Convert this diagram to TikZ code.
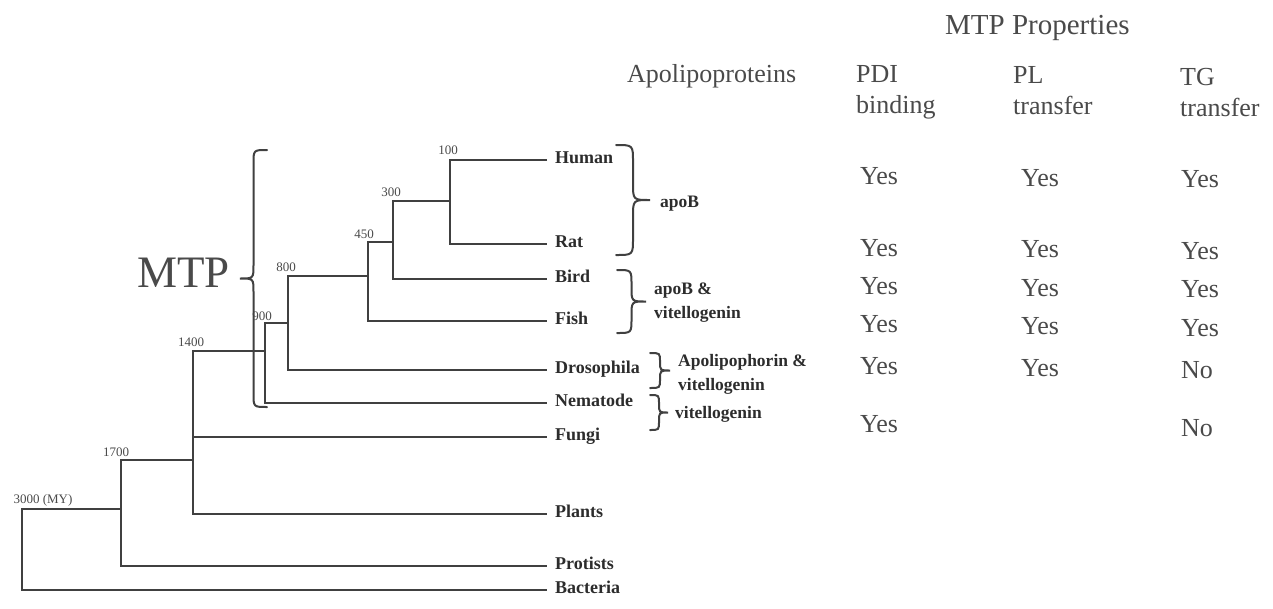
\documentclass[tikz,border=0pt]{standalone}
\usepackage{fontspec}
\setmainfont{Liberation Serif}
\definecolor{lc}{HTML}{404040}
\definecolor{tc}{HTML}{2C2C2C}
\definecolor{gc}{HTML}{4A4A4A}
\newcommand\mybrace[4]{%
  \pgfmathsetmacro\bxm{(#1+#4)/2}%
  \pgfmathsetmacro\bym{(#2+#3)/2}%
  \pgfmathsetmacro\bh{min(abs(#4-#1)/2,(#3-#2)/4)}%
  \draw[bracestyle] (#1,#2) .. controls (\bxm,#2) .. (\bxm,#2+\bh) -- (\bxm,\bym-\bh) .. controls (\bxm,\bym) .. (#4,\bym) .. controls (\bxm,\bym) .. (\bxm,\bym+\bh) -- (\bxm,#3-\bh) .. controls (\bxm,#3) .. (#1,#3);}
\begin{document}
\begin{tikzpicture}[x=1pt,y=-1pt,
  br/.style={draw=lc,line width=1.8pt,line join=miter},
  bracestyle/.style={draw=lc,line width=2pt,line cap=round},
  leaf/.style={anchor=west,inner xsep=8pt,inner ysep=0pt,text height=0.66em,text depth=0pt,text=tc,font=\bfseries\fontsize{18}{20}\selectfont},
  blab/.style={anchor=base west,inner sep=0pt,text=tc,font=\bfseries\fontsize{17.5}{20}\selectfont},
  num/.style={inner sep=0pt,text=gc,font=\fontsize{13}{14}\selectfont},
  tab/.style={anchor=base west,inner sep=0pt,text=gc,font=\fontsize{26}{28}\selectfont}]
\useasboundingbox (0,0) rectangle (1273,608);
\fill[white] (0,0) rectangle (1273,608);
% leaves
\node[leaf] (human) at (547,160) {Human};
\node[leaf] (rat) at (547,244) {Rat};
\node[leaf] (bird) at (547,279) {Bird};
\node[leaf] (fish) at (547,321) {Fish};
\node[leaf] (dros) at (547,370) {Drosophila};
\node[leaf] (nema) at (547,403) {Nematode};
\node[leaf] (fungi) at (547,437) {Fungi};
\node[leaf] (plants) at (547,514) {Plants};
\node[leaf] (protists) at (547,566) {Protists};
\node[leaf] (bacteria) at (547,590) {Bacteria};
% internal node coordinates
\coordinate (t100) at (450,160); \coordinate (b100) at (450,244); \coordinate (j100) at (450,201);
\coordinate (t300) at (393,201); \coordinate (b300) at (393,279); \coordinate (j300) at (393,242);
\coordinate (t450) at (368,242); \coordinate (b450) at (368,321); \coordinate (j450) at (368,276);
\coordinate (t800) at (288,276); \coordinate (b800) at (288,370); \coordinate (j800) at (288,323);
\coordinate (t900) at (265,323); \coordinate (b900) at (265,403); \coordinate (j900) at (265,351);
\coordinate (t1400) at (193,351); \coordinate (b1400) at (193,514); \coordinate (f1400) at (193,437); \coordinate (j1400) at (193,460);
\coordinate (t1700) at (121,460); \coordinate (b1700) at (121,566); \coordinate (j1700) at (121,509);
\coordinate (t3000) at (22,509); \coordinate (b3000) at (22,590);
% branches
\draw[br] (human.west) -- (t100) -- (b100) -- (rat.west);
\draw[br] (j100) -- (t300) -- (b300) -- (bird.west);
\draw[br] (j300) -- (t450) -- (b450) -- (fish.west);
\draw[br] (j450) -- (t800) -- (b800) -- (dros.west);
\draw[br] (j800) -- (t900) -- (b900) -- (nema.west);
\draw[br] (j900) -- (t1400) -- (b1400) -- (plants.west);
\draw[br] (f1400) -- (fungi.west);
\draw[br] (j1400) -- (t1700) -- (b1700) -- (protists.west);
\draw[br] (j1700) -- (t3000) -- (b3000) -- (bacteria.west);
% node ages
\node[num] (a100) at (448,150) {100};
\node[num] (a300) at (391,192) {300};
\node[num] (a450) at (364,234) {450};
\node[num] (a800) at (286,267) {800};
\node[num] (a900) at (262,316) {900};
\node[num] (a1400) at (191,342) {1400};
\node[num] (a1700) at (116,452) {1700};
\node[num] (a3000) at (43,500) {3000 (MY)};
% MTP brace
\node[anchor=base west,inner sep=0pt,text=gc,font=\fontsize{45}{45}\selectfont] (mtp) at (137,287) {MTP};
\mybrace{267}{150}{407}{240}
% apolipoprotein braces
\mybrace{616}{145}{255}{650}
\mybrace{617}{270}{333}{646}
\mybrace{650}{353}{388}{670}
\mybrace{650}{395}{430}{668}
\node[blab] (l1) at (660,207) {apoB};
\node[blab] (l2a) at (654,294) {apoB \&};
\node[blab] (l2b) at (654,318) {vitellogenin};
\node[blab] (l3a) at (678,366) {Apolipophorin \&};
\node[blab] (l3b) at (678,390) {vitellogenin};
\node[blab] (l4) at (675,418) {vitellogenin};
% table header
\node[tab,font=\fontsize{29}{30}\selectfont] (hdr) at (945,34) {MTP Properties};
\node[tab] (hapo) at (627,82) {Apolipoproteins};
\node[tab] (hpdi1) at (856,82) {PDI};
\node[tab] (hpdi2) at (856,113) {binding};
\node[tab] (hpl1) at (1013,83) {PL};
\node[tab] (hpl2) at (1013,114) {transfer};
\node[tab] (htg1) at (1180,85) {TG};
\node[tab] (htg2) at (1180,116) {transfer};
% table cells
\node[tab] (c11) at (860,184) {Yes}; \node[tab] (c12) at (1021,186) {Yes}; \node[tab] (c13) at (1181,187) {Yes};
\node[tab] (c21) at (860,256) {Yes}; \node[tab] (c22) at (1021,257) {Yes}; \node[tab] (c23) at (1181,259) {Yes};
\node[tab] (c31) at (860,294) {Yes}; \node[tab] (c32) at (1021,296) {Yes}; \node[tab] (c33) at (1181,297) {Yes};
\node[tab] (c41) at (860,332) {Yes}; \node[tab] (c42) at (1021,334) {Yes}; \node[tab] (c43) at (1181,336) {Yes};
\node[tab] (c51) at (860,374) {Yes}; \node[tab] (c52) at (1021,376) {Yes}; \node[tab] (c53) at (1181,378) {No};
\node[tab] (c61) at (860,432) {Yes}; \node[tab] (c63) at (1181,436) {No};
\end{tikzpicture}
\end{document}
